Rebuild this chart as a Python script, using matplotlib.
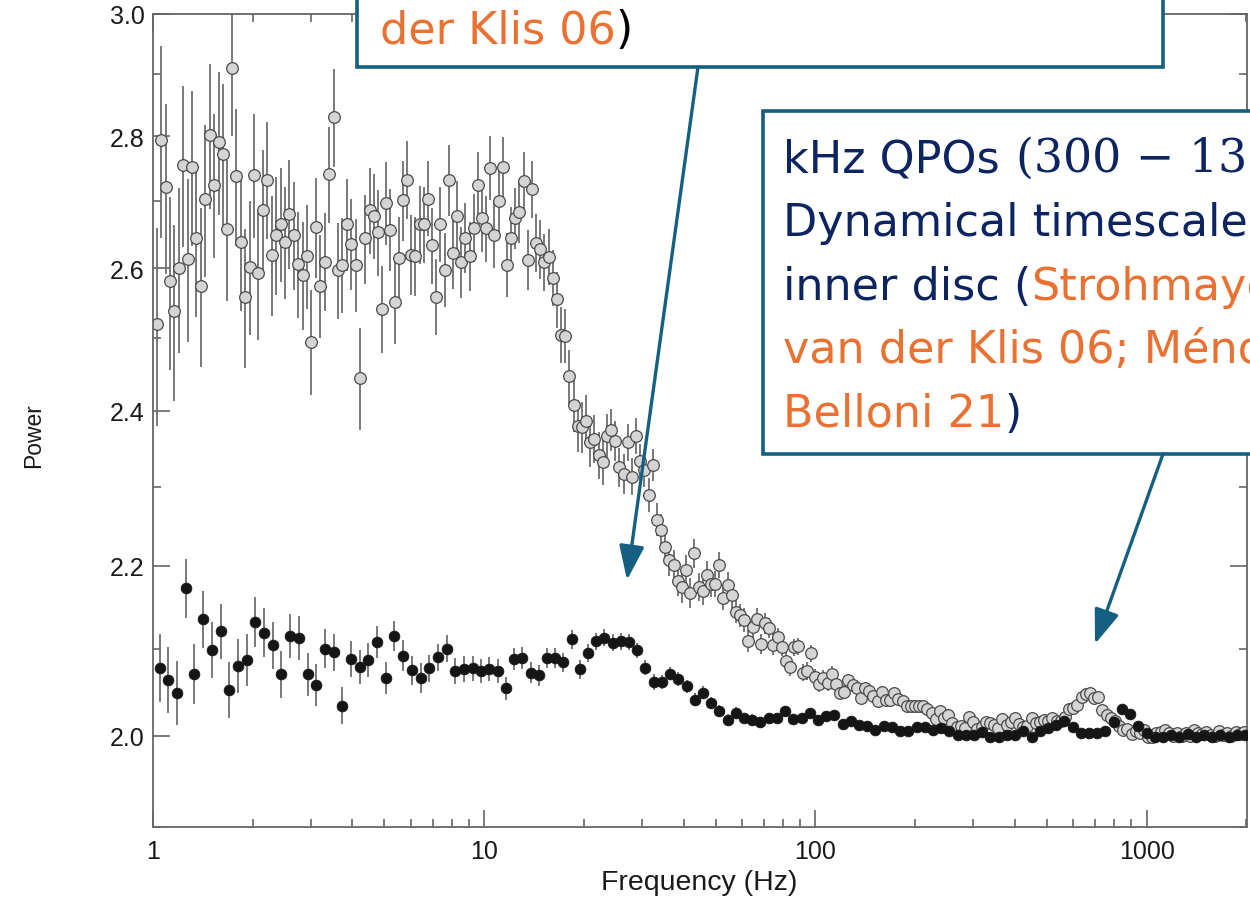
import matplotlib.pyplot as plt
from matplotlib.patches import Rectangle, FancyArrowPatch
from matplotlib.ticker import FixedLocator, NullFormatter, FuncFormatter

# grey points (soft state, with the kHz QPO bump)
grey_freq = [
    1.026, 1.058, 1.091, 1.125, 1.160, 1.197, 1.234, 1.273, 1.312, 1.353,
    1.395, 1.439, 1.484, 1.530, 1.578, 1.627, 1.678, 1.731, 1.785, 1.840,
    1.898, 1.957, 2.018, 2.081, 2.146, 2.213, 2.282, 2.353, 2.427, 2.503,
    2.581, 2.661, 2.745, 2.830, 2.919, 3.010, 3.104, 3.201, 3.301, 3.404,
    3.510, 3.619, 3.732, 3.849, 3.969, 4.093, 4.221,
    4.379, 4.508, 4.640, 4.776, 4.917, 5.061, 5.210, 5.363, 5.520, 5.682,
    5.849, 6.021, 6.198, 6.380, 6.567, 6.760, 6.959, 7.163, 7.374, 7.590,
    7.813, 8.042, 8.279, 8.522, 8.772, 9.030, 9.295, 9.568, 9.849, 10.14,
    10.44, 10.74, 11.06, 11.38, 11.72, 12.06, 12.42, 12.78, 13.16, 13.54,
    13.94, 14.35, 14.77, 15.20, 15.65, 16.11, 16.58, 17.07, 17.57, 18.09,
    18.62, 19.17, 19.73, 20.31, 20.90, 21.52, 22.15, 22.80, 23.47, 24.16,
    24.87, 25.60, 26.35, 27.13, 27.92, 28.74, 29.59, 30.46, 31.35, 32.27,
    33.22, 34.19, 35.20, 36.23, 37.30, 38.39, 39.52, 40.68, 41.88, 43.11,
    44.37, 45.67, 47.02, 48.40, 49.82, 51.28, 52.79, 54.34, 55.93, 57.58,
    59.27, 61.01, 62.80, 64.64, 66.54, 68.50, 70.51, 72.58, 74.71, 76.91,
    79.16, 81.49, 83.88, 86.35, 88.88, 91.49, 94.18, 96.95, 99.79, 102.7,
    105.7, 108.8, 112.0, 115.3, 118.7, 122.2, 125.8, 129.5, 133.3, 137.2,
    141.2, 145.4, 149.7, 154.1, 158.6, 163.2, 168.0, 173.0, 178.0, 183.3,
    188.7, 194.2, 199.9, 205.8, 211.8, 218.0, 224.4, 231.0, 237.8, 244.8,
    252.0, 259.4, 267.0, 274.9, 282.9, 291.2, 299.8, 308.6, 317.7, 327.0,
    336.6, 346.5, 356.7, 367.1, 377.9, 389.0, 400.4, 412.2, 424.3, 436.8,
    449.6, 462.8, 476.4, 490.4, 504.8, 519.6, 534.9, 550.6, 566.7, 583.4,
    600.5, 618.2, 636.3, 655.0, 674.2, 694.0, 714.4, 735.4, 757.0, 779.2,
    802.1, 825.7, 849.9, 874.9, 900.6, 927.0, 954.3, 982.3, 1011, 1041,
    1071, 1103, 1135, 1169, 1203, 1238, 1275, 1312, 1351, 1390,
    1431, 1473, 1516, 1561, 1607, 1654, 1703, 1753, 1804, 1857,
    1912, 1968,
]
grey_power = [
    2.520, 2.795, 2.722, 2.581, 2.539, 2.600, 2.756, 2.614, 2.753, 2.645,
    2.575, 2.703, 2.802, 2.725, 2.791, 2.773, 2.658, 2.910, 2.738, 2.639,
    2.558, 2.602, 2.740, 2.593, 2.687, 2.733, 2.620, 2.649, 2.665, 2.639,
    2.681, 2.649, 2.606, 2.590, 2.618, 2.495, 2.661, 2.575, 2.610, 2.741,
    2.830, 2.597, 2.605, 2.665, 2.636, 2.605, 2.445,
    2.644, 2.686, 2.678, 2.653, 2.541, 2.697, 2.657, 2.552, 2.615, 2.701,
    2.733, 2.620, 2.618, 2.665, 2.665, 2.704, 2.634, 2.559, 2.665, 2.598,
    2.732, 2.623, 2.678, 2.609, 2.645, 2.618, 2.660, 2.725, 2.674, 2.659,
    2.751, 2.649, 2.700, 2.752, 2.605, 2.645, 2.674, 2.683, 2.731, 2.612,
    2.718, 2.638, 2.628, 2.609, 2.617, 2.586, 2.555, 2.505, 2.503, 2.447,
    2.408, 2.380, 2.378, 2.387, 2.358, 2.363, 2.341, 2.332, 2.367, 2.374,
    2.360, 2.325, 2.317, 2.358, 2.313, 2.366, 2.333, 2.322, 2.289, 2.328,
    2.258, 2.245, 2.224, 2.207, 2.201, 2.182, 2.174, 2.195, 2.167, 2.216,
    2.174, 2.169, 2.189, 2.178, 2.178, 2.201, 2.161, 2.177, 2.164, 2.144,
    2.140, 2.134, 2.109, 2.126, 2.135, 2.106, 2.130, 2.125, 2.105, 2.114,
    2.102, 2.086, 2.079, 2.102, 2.103,
    2.072, 2.074, 2.095, 2.067, 2.059, 2.066, 2.060, 2.071, 2.059, 2.048,
    2.050, 2.063, 2.058, 2.054, 2.043, 2.054, 2.051, 2.045, 2.039, 2.050,
    2.040, 2.041, 2.048, 2.042, 2.039, 2.033, 2.033, 2.034, 2.034, 2.033,
    2.030, 2.026, 2.019, 2.028, 2.020, 2.023, 2.014, 2.010, 2.011, 2.009,
    2.021, 2.015, 2.008, 2.010, 2.015, 2.014, 2.012, 2.009, 2.019, 2.012,
    2.015, 2.020, 2.013, 2.010, 2.011, 2.020, 2.014, 2.015, 2.018, 2.016,
    2.020, 2.017, 2.016, 2.021, 2.030, 2.031, 2.035, 2.044, 2.047, 2.048,
    2.043, 2.044, 2.029, 2.023, 2.020, 2.017, 2.011, 2.006, 2.008, 2.002,
    2.005, 2.003, 2.006, 1.999, 1.998, 2.003, 2.004, 2.006, 2.003, 2.000,
    2.003, 2.000, 2.003, 2.000, 2.006, 2.003, 2.002, 2.004, 2.001, 2.000,
    2.005, 2.001, 2.003, 2.000, 2.004, 2.002, 2.004,
]
grey_err = [
    0.140, 0.150, 0.130, 0.125, 0.125, 0.120, 0.125, 0.120, 0.120, 0.115,
    0.115, 0.115, 0.114, 0.110, 0.112, 0.110, 0.105, 0.110, 0.105, 0.100,
    0.100, 0.098, 0.095, 0.095, 0.092, 0.090, 0.088, 0.088, 0.085, 0.083,
    0.082, 0.080, 0.078, 0.078, 0.076, 0.073, 0.075, 0.074, 0.072, 0.074,
    0.078, 0.070, 0.070, 0.069, 0.068, 0.068, 0.070,
    0.066, 0.065, 0.064, 0.064, 0.062, 0.063, 0.061, 0.060, 0.061, 0.060,
    0.060, 0.059, 0.058, 0.058, 0.057, 0.057, 0.056, 0.055, 0.056, 0.054,
    0.054, 0.053, 0.053, 0.052, 0.052, 0.051, 0.051, 0.050, 0.050, 0.049,
    0.049, 0.048, 0.048, 0.047, 0.047, 0.046, 0.046, 0.045, 0.045, 0.044,
    0.044, 0.043, 0.043, 0.042, 0.041, 0.041, 0.040, 0.039, 0.038, 0.037,
    0.036, 0.035, 0.034, 0.034, 0.033, 0.032, 0.031, 0.030, 0.029, 0.028,
    0.027, 0.026, 0.026, 0.025, 0.024, 0.024, 0.023, 0.022, 0.022, 0.021,
    0.021, 0.020, 0.020, 0.020, 0.019, 0.019, 0.019, 0.018, 0.018, 0.018,
    0.017, 0.017, 0.017, 0.016, 0.016, 0.016, 0.015, 0.015, 0.015, 0.014,
    0.014, 0.014, 0.013, 0.013, 0.013, 0.012, 0.012, 0.012, 0.012, 0.011,
    0.011, 0.011, 0.011, 0.010, 0.010, 0.010, 0.010, 0.010, 0.009, 0.009,
    0.009, 0.009, 0.009, 0.008, 0.008, 0.008, 0.008, 0.008, 0.008, 0.007,
    0.007, 0.007, 0.007, 0.007, 0.007, 0.006, 0.006, 0.006, 0.006, 0.006,
    0.006, 0.006, 0.006, 0.006, 0.006, 0.006, 0.006, 0.006, 0.006, 0.006,
    0.005, 0.005, 0.005, 0.005, 0.005, 0.005, 0.005, 0.005, 0.005, 0.005,
    0.005, 0.005, 0.005, 0.005, 0.005, 0.005, 0.005, 0.005, 0.005, 0.005,
    0.004, 0.004, 0.004, 0.004, 0.004, 0.004, 0.004, 0.004, 0.004, 0.004,
    0.004, 0.004, 0.004, 0.004, 0.004, 0.004, 0.004, 0.004, 0.004, 0.004,
    0.004, 0.004, 0.004, 0.004, 0.004, 0.004, 0.004, 0.004, 0.004, 0.004,
    0.004, 0.004, 0.004, 0.004, 0.004, 0.004, 0.004, 0.004, 0.004, 0.004,
    0.004, 0.004, 0.004, 0.004, 0.004, 0.004, 0.004, 0.004, 0.004, 0.004,
    0.004, 0.004,
]

# black points (hard state)
black_freq = [
    1.048, 1.113, 1.182, 1.256, 1.334, 1.417, 1.506, 1.600, 1.699, 1.805,
    1.918, 2.037, 2.164, 2.299, 2.442, 2.594, 2.756, 2.928, 3.110, 3.304,
    3.510, 3.729, 3.961, 4.208, 4.470, 4.749, 5.045, 5.359, 5.693, 6.048,
    6.425, 6.825, 7.251, 7.702, 8.182, 8.692, 9.234,
    9.794, 10.37, 10.98, 11.62, 12.31, 13.03, 13.80, 14.61, 15.47, 16.37,
    17.34, 18.35, 19.43, 20.58, 21.78, 23.06, 24.42, 25.86, 27.38, 28.98,
    30.69, 32.49, 34.40, 36.42, 38.56, 40.83, 43.23, 45.77, 48.46, 51.31,
    54.32, 57.51, 60.89, 64.47, 68.26, 72.27, 76.52, 81.02, 85.78, 90.82,
    96.16, 101.8, 107.8, 114.1, 120.8, 127.9, 135.5, 143.4, 151.8, 160.8,
    170.2, 180.2, 190.8, 202.0, 213.9, 226.5, 239.8, 253.9, 268.8, 284.6,
    301.3, 319.0, 337.8, 357.6, 378.6, 400.9, 424.4, 449.4, 475.8, 503.7,
    533.4, 564.7, 597.9, 633.0, 670.2, 709.6, 751.3, 795.5, 842.2, 891.7,
    944.1, 999.6, 1058, 1121, 1186, 1256, 1330, 1408, 1491, 1578,
    1671, 1769, 1873, 1984,
]
black_power = [
    2.078, 2.064, 2.049, 2.173, 2.071, 2.135, 2.099, 2.121, 2.052, 2.080,
    2.087, 2.132, 2.119, 2.104, 2.070, 2.115, 2.113, 2.070, 2.058, 2.100,
    2.096, 2.034, 2.088, 2.079, 2.087, 2.108, 2.066, 2.115, 2.092, 2.075,
    2.066, 2.077, 2.090, 2.100, 2.074, 2.076, 2.077, 2.074, 2.076, 2.074,
    2.054, 2.088, 2.089, 2.072, 2.069, 2.089, 2.089, 2.084, 2.111, 2.076,
    2.095, 2.109, 2.113, 2.107, 2.109, 2.108, 2.098, 2.078, 2.061, 2.061,
    2.071, 2.065, 2.056, 2.041, 2.049, 2.037, 2.028, 2.018, 2.026, 2.020,
    2.018, 2.015, 2.020, 2.020, 2.028, 2.019, 2.020, 2.026, 2.018, 2.022,
    2.023, 2.013, 2.017, 2.012, 2.011, 2.006, 2.011, 2.010, 2.005, 2.005,
    2.010, 2.010, 2.006, 2.009, 2.005, 2.001, 2.001, 2.001, 2.004, 1.998,
    1.998, 2.001, 2.001, 2.005, 1.999, 2.005, 2.009, 2.012, 2.016, 2.010,
    2.003, 2.003, 2.003, 2.005, 2.015, 2.030, 2.024, 2.011, 2.003, 1.999,
    1.999, 2.001, 1.999, 2.002, 1.999, 2.001, 1.999, 2.001, 1.999, 2.001,
    2.001,
]
black_err = [
    0.040, 0.038, 0.037, 0.036, 0.035, 0.034, 0.033, 0.033, 0.032, 0.031,
    0.031, 0.030, 0.029, 0.028, 0.027, 0.026, 0.026, 0.025, 0.024, 0.023,
    0.022, 0.021, 0.021, 0.020, 0.020, 0.019, 0.019, 0.018, 0.018, 0.017,
    0.017, 0.016, 0.016, 0.016, 0.015, 0.015, 0.015, 0.014, 0.014, 0.014,
    0.013, 0.013, 0.013, 0.012, 0.012, 0.012, 0.012, 0.011, 0.011, 0.011,
    0.011, 0.010, 0.010, 0.010, 0.010, 0.009, 0.009, 0.009, 0.009, 0.008,
    0.008, 0.008, 0.008, 0.007, 0.007, 0.007, 0.007, 0.006, 0.006, 0.006,
    0.006, 0.006, 0.005, 0.005, 0.005, 0.005, 0.005, 0.005, 0.005, 0.005,
    0.004, 0.004, 0.004, 0.004, 0.004, 0.004, 0.004, 0.004, 0.004, 0.004,
    0.004, 0.004, 0.004, 0.004, 0.004, 0.004, 0.004, 0.004, 0.004, 0.004,
    0.004, 0.004, 0.004, 0.004, 0.004, 0.004, 0.004, 0.004, 0.004, 0.004,
    0.004, 0.004, 0.004, 0.004, 0.004, 0.004, 0.004, 0.004, 0.004, 0.004,
    0.004, 0.004, 0.004, 0.004, 0.004, 0.004, 0.004, 0.004, 0.004, 0.004,
    0.004,
]

x_ticks = [1, 10, 100, 1000]
y_ticks = [2.0, 2.2, 2.4, 2.6, 2.8, 3.0]
y_minor = [1.9, 2.1, 2.3, 2.5, 2.7, 2.9]

NAVY = '#0c2461'
ORANGE = '#E97132'
TEAL = '#156082'
W, H = 1250, 903

plt.rcParams['font.family'] = ['Liberation Sans', 'DejaVu Sans']
fig = plt.figure(figsize=(12.5, 9.03), dpi=100)
ax = fig.add_axes([153 / W, 1 - 828 / H, (1247 - 153) / W, (828 - 14.5) / H])
ax.set_xscale('log')
ax.set_yscale('log')

ax.errorbar(grey_freq, grey_power, yerr=grey_err, fmt='o', ms=8.4,
            mfc='#d4d4d4', mec='#4a4a4a', mew=0.9, ecolor='#6e6e6e',
            elinewidth=1.3, capsize=0, zorder=2)
ax.errorbar(black_freq, black_power, yerr=black_err, fmt='o', ms=7.8,
            mfc='#151515', mec='#151515', mew=0.5, ecolor='#6e6e6e',
            elinewidth=1.3, capsize=0, zorder=3)

ax.set_xlim(1, 2010)
ax.set_ylim(1.9, 3.0)
ax.xaxis.set_major_locator(FixedLocator(x_ticks))
ax.xaxis.set_major_formatter(FuncFormatter(lambda v, p: f'{v:g}'))
ax.xaxis.set_minor_locator(FixedLocator([m * d for d in (1, 10, 100, 1000)
                                         for m in range(2, 10)]))
ax.xaxis.set_minor_formatter(NullFormatter())
ax.yaxis.set_major_locator(FixedLocator(y_ticks))
ax.yaxis.set_major_formatter(FuncFormatter(lambda v, p: f'{v:.1f}'))
ax.yaxis.set_minor_locator(FixedLocator(y_minor))
ax.yaxis.set_minor_formatter(NullFormatter())

for s in ax.spines.values():
    s.set_color('#666666')
    s.set_linewidth(1.3)
ax.tick_params(which='both', direction='in', top=True, right=True,
               color='#666666', width=1.2, labelsize=18, labelcolor='#1a1a1a')
ax.tick_params(which='major', length=12)
ax.tick_params(which='minor', length=6)
ax.tick_params(axis='x', which='major', pad=9)
ax.tick_params(axis='y', which='major', pad=6)

ax.set_xlabel('Frequency (Hz)', fontsize=20.5, color='#1a1a1a')
ax.set_ylabel('Power', fontsize=16.5, color='#1a1a1a')
ax.xaxis.set_label_coords(0.499, -0.052)
ax.yaxis.set_label_coords(-0.099, 0.483)

# annotation boxes (run off the top / right edge of the slide)
fig.add_artist(Rectangle((357 / W, 1 - 68 / H), (1163 - 357) / W, 0.2,
                         transform=fig.transFigure, facecolor='white',
                         edgecolor=TEAL, lw=2.6, zorder=5))
fig.add_artist(Rectangle((763 / W, 1 - 455 / H), 0.5, (455 - 112) / H,
                         transform=fig.transFigure, facecolor='white',
                         edgecolor=TEAL, lw=2.6, zorder=5))

renderer = fig.canvas.get_renderer()


def colour_line(x_px, y_px, parts):
    x = x_px / W
    for text, colour, family, size, gap in parts:
        t = fig.text(x + gap / W, 1 - y_px / H, text, color=colour,
                     family=family, fontsize=size, va='baseline', ha='left',
                     zorder=6)
        x = t.get_window_extent(renderer).x1 / W


sans = 'DejaVu Sans'
serif = 'DejaVu Serif'
colour_line(380, 43, [('der Klis 06', ORANGE, sans, 32, 0),
                      (')', 'black', sans, 32, 0)])
colour_line(783, 172, [('kHz QPOs', NAVY, sans, 32, 0),
                       ('(300 \u2212 13', NAVY, serif, 33, 16)])
colour_line(783, 236, [('Dynamical timescale', NAVY, sans, 32, 0)])
colour_line(783, 300, [('inner disc (', NAVY, sans, 32, 0),
                       ('Strohmayer', ORANGE, sans, 32, 0)])
colour_line(783, 363, [('van der Klis 06; M\u00e9nd', ORANGE, sans, 32, 0)])
colour_line(783, 427, [('Belloni 21', ORANGE, sans, 32, 0),
                       (')', NAVY, sans, 32, 0)])

for start, end in [((698, 68), (627, 581)), ((1163, 455), (1095, 645))]:
    fig.add_artist(FancyArrowPatch((start[0] / W, 1 - start[1] / H),
                                   (end[0] / W, 1 - end[1] / H),
                                   transform=fig.transFigure,
                                   arrowstyle='-|>,head_length=1.5,head_width=0.55',
                                   mutation_scale=14, color=TEAL, lw=2.4,
                                   shrinkA=0, shrinkB=0, zorder=7))

fig.savefig('out.png', dpi=100)
